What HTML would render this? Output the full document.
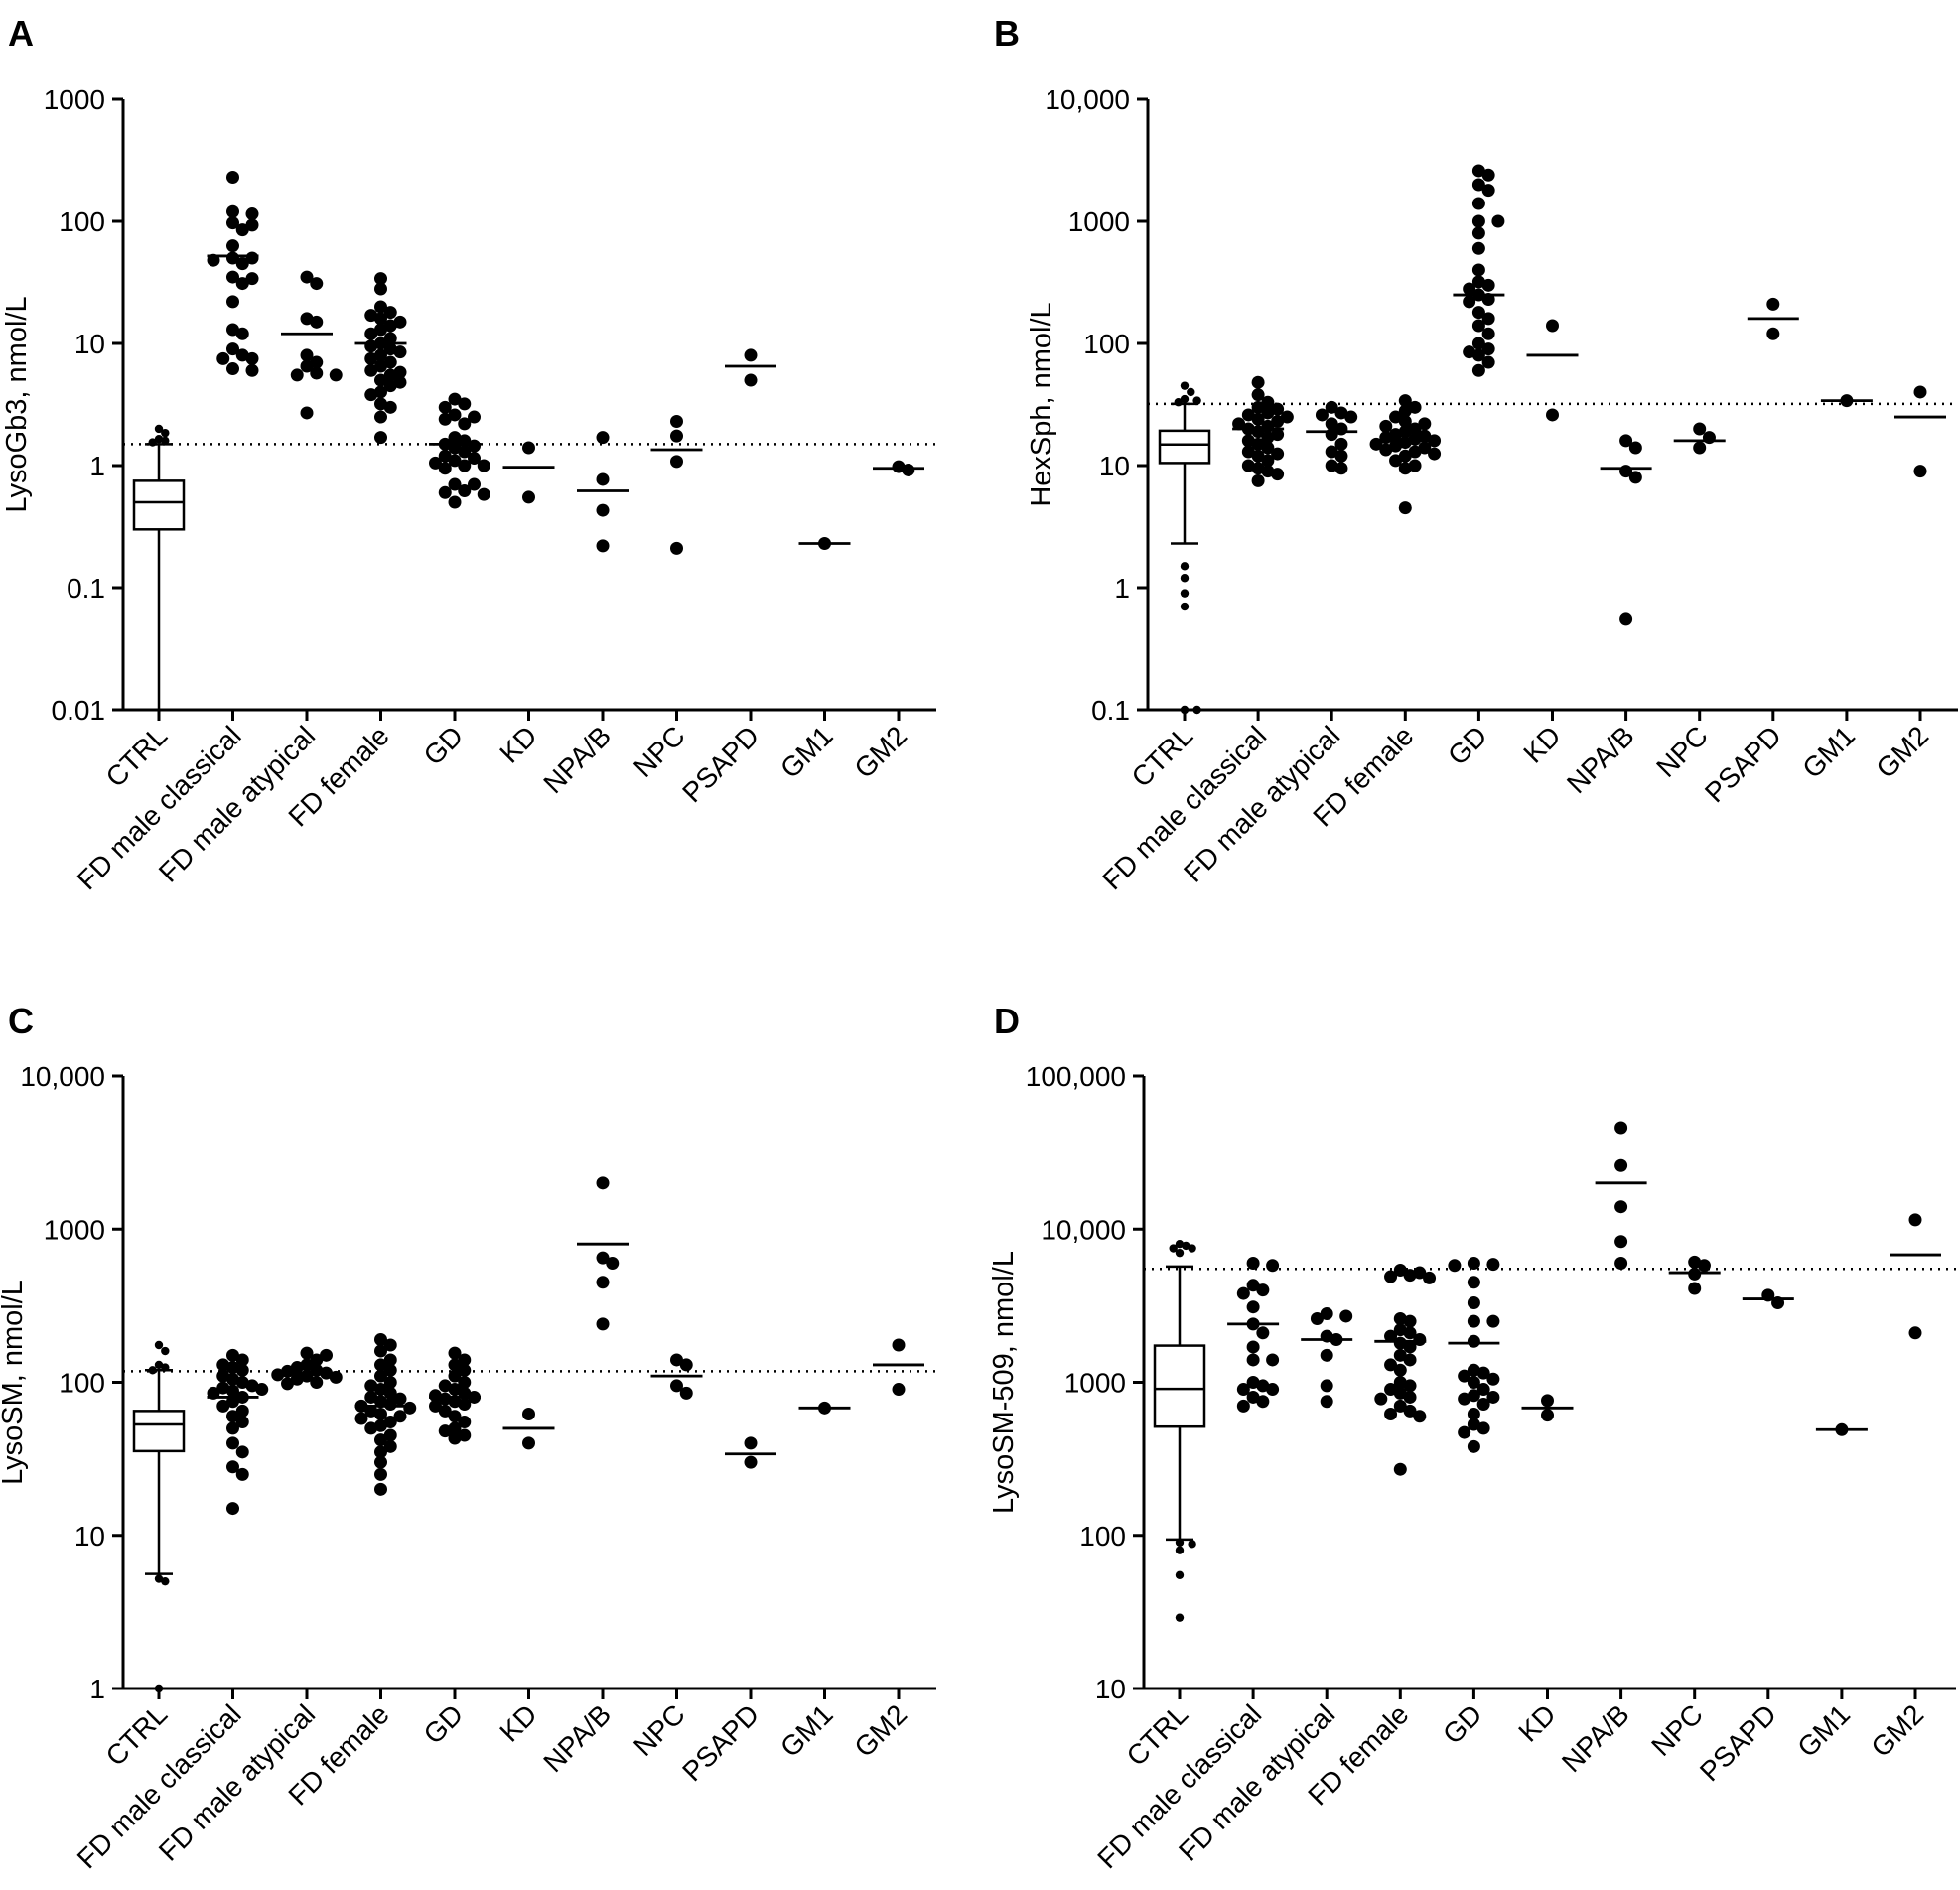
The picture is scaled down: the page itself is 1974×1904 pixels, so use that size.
<!DOCTYPE html>
<html><head><meta charset="utf-8"><style>
html,body{margin:0;padding:0;background:#fff;}
svg{display:block;font-family:"Liberation Sans",Arial,sans-serif;}
</style></head><body>
<svg id="fig" width="1974" height="1904" viewBox="0 0 1974 1904" xmlns="http://www.w3.org/2000/svg"></svg>
<script>
const categories = ["CTRL","FD male classical","FD male atypical","FD female","GD","KD","NPA/B","NPC","PSAPD","GM1","GM2"];

// Panel A: LysoGb3
const aTicks = ["1000","100","10","1","0.1","0.01"];
const aBox = [0.01, 0.3, 0.5, 0.75, 1.5];
const aOutliers = [2.0, 1.85, 1.65, 1.6, 1.55];
const aGroups = [
 [230,120,115,97,93,85,63,50,48,50,45,35,34,31,22,13,12,9,8,7.5,7.5,6,6.2],
 [35,31,16,15,8,7,6.5,5.5,5.5,5.7,2.7],
 [34,28,20,18,17,16,15,14,13,12,11,10,9.5,9,8.5,8,7.5,7,6.5,6,5.8,5.5,5,4.8,4.5,4,3.8,3.2,3,2.5,1.7],
 [3.5,3.2,3.0,2.6,2.5,2.4,2.2,1.7,1.6,1.5,1.45,1.4,1.3,1.2,1.15,1.1,1.05,1.0,1.0,0.95,0.7,0.7,0.62,0.6,0.58,0.5],
 [1.4,0.55],[1.7,0.77,0.43,0.22],[2.3,1.75,1.08,0.21],[8.0,5.0],[0.23],[0.92,0.98]];
const aMeans = [52,12,10,1.5,0.97,0.62,1.35,6.5,0.23,0.95];
const aCutoff = 1.5;

// Panel B: HexSph
const bTicks = ["10,000","1000","100","10","1","0.1"];
const bBox = [2.3, 10.5, 14.9, 19.3, 32];
const bOutliers = [45,40,35,34,33,1.5,1.2,0.9,0.7,0.1,0.1];
const bGroups = [
 [48,38,33,30,29,27,26,25,24,23,22,21,20,19,18,17,16,15,14,13,12.5,12,11,10,9.5,9,8.5,7.5],
 [30,27,26,25,22,20,18,15,13,12,10,9.5],
 [34,30,28,25,23,22,21,20,19,18,17.5,17,16.5,16,15.5,15,14.5,14,13.5,13,12.5,12,11,10,9.5,4.5],
 [2600,2400,2000,1800,1400,1000,1000,800,600,400,320,300,280,250,230,220,180,160,140,120,100,90,85,80,70,60],
 [140,26],[16,14,9,8,0.55],[20,17,14],[210,120],[34],[40,9]];
const bMeans = [20,19,16,250,80,9.5,16,160,34,25];
const bCutoff = 32;

// Panel C: LysoSM
const cTicks = ["10,000","1000","100","10","1"];
const cBox = [5.6, 35.5, 53, 65, 120];
const cOutliers = [175,160,130,125,120,5.0,5.2,1.0];
const cGroups = [
 [150,140,130,125,120,110,105,100,95,92,90,88,85,80,75,70,65,60,55,50,40,35,28,25,15],
 [155,150,140,130,125,120,118,115,112,110,108,105,100,98],
 [190,175,160,140,130,120,110,100,95,90,85,80,78,75,72,70,68,65,62,60,58,55,52,50,45,42,38,35,30,25,20],
 [155,140,130,120,110,100,95,90,85,82,80,78,75,72,70,65,60,55,50,48,45,43],
 [62,40],[2000,650,600,450,240],[140,130,95,85],[40,30],[68],[175,90]];
const cMeans = [80,115,70,80,50,800,110,34,68,130];
const cCutoff = 118;

// Panel D: LysoSM-509
const dTicks = ["100,000","10,000","1000","100","10"];
const dBox = [94, 513, 905, 1735, 5700];
const dOutliers = [8000,7500,7000,7500,7800,90,88,80,55,29];
const dGroups = [
 [6000,5800,4300,4000,3800,3100,2400,2100,1700,1400,1400,1000,950,900,900,800,750,700],
 [2800,2700,2600,2000,1900,1500,950,750],
 [5400,5200,5000,4900,4800,2600,2500,2200,2100,2000,1900,1800,1700,1500,1400,1300,1200,1000,950,900,850,800,780,700,650,620,600,270],
 [6000,5900,5800,4500,3300,2500,2500,1850,1200,1150,1100,1050,1000,900,820,800,780,720,620,530,500,470,380],
 [760,610],[46000,26000,14000,8300,6000],[6100,5800,5100,4100],[3700,3300],[490],[11500,2100]];
const dMeans = [2400,1900,1850,1800,680,20000,5200,3500,490,6800];
const dCutoff = 5500;

const NS = "http://www.w3.org/2000/svg";
const svg = document.getElementById("fig");
function mk(tag, attrs, parent){
  const e = document.createElementNS(NS, tag);
  for (const k in attrs) e.setAttribute(k, attrs[k]);
  (parent||svg).appendChild(e);
  return e;
}

function panel(p){
  const g = mk("g", {});
  
  
  const ty = p.ticks.map(t => parseFloat(t.replace(/,/g,"")));
  const lmax = Math.log10(ty[0]), lmin = Math.log10(ty[ty.length-1]);
  const y = v => p.top + (lmax - Math.log10(v)) / (lmax - lmin) * (p.bottom - p.top);
  const x = i => p.x0 + i * p.step;

  const letter = mk("text", {x:p.lx, y:p.ly, "font-size":36, "font-weight":"bold", fill:"#000"}, g);
  letter.textContent = p.letter;
  
  

  const ax = mk("path", {d:`M${p.ax},${p.top} V${p.bottom} H${p.axEnd}`, stroke:"#000", "stroke-width":3, fill:"none"}, g);
  
  

  ty.forEach((v,i)=>{
    const yy = y(v);
    const tk = mk("line", {x1:p.ax-11, x2:p.ax, y1:yy, y2:yy, stroke:"#000", "stroke-width":3}, g);
    
    
    const tl = mk("text", {x:p.ax-18, y:yy+10, "font-size":28, "text-anchor":"end", fill:"#000"}, g);
    tl.textContent = p.ticks[i];
    
    
  });

  const yl = mk("text", {x:0, y:0, "font-size":29, "text-anchor":"middle", fill:"#000",
    transform:`translate(${p.ylx},${(p.top+p.bottom)/2}) rotate(-90)`}, g);
  yl.textContent = p.ylabel;
  
  

  categories.forEach((c,i)=>{
    const xx = x(i);
    const tk = mk("line", {x1:xx, x2:xx, y1:p.bottom, y2:p.bottom+11, stroke:"#000", "stroke-width":3}, g);
    
    
    const tl = mk("text", {x:0, y:0, "font-size":28, "text-anchor":"end", fill:"#000",
      transform:`translate(${xx+10},${p.bottom+28}) rotate(-45)`}, g);
    tl.textContent = c;
    
    
  });

  const co = mk("line", {x1:p.ax, x2:p.axEnd, y1:y(p.cutoff), y2:y(p.cutoff), stroke:"#000", "stroke-width":2.5, "stroke-dasharray":"2 6"}, g);
  
  

  const bx = x(0), b = p.box;
  const wh = mk("path", {d:`M${bx},${y(b[0])} V${y(b[1])} M${bx},${y(b[3])} V${y(b[4])} M${bx-14},${y(b[0])} H${bx+14} M${bx-14},${y(b[4])} H${bx+14}`, stroke:"#000", "stroke-width":2.5, fill:"none"}, g);
  
  
  const rect = mk("rect", {x:bx-25, y:y(b[3]), width:50, height:y(b[1])-y(b[3]), fill:"#fff", stroke:"#000", "stroke-width":2.5}, g);
  
  
  const md = mk("line", {x1:bx-25, x2:bx+25, y1:y(b[2]), y2:y(b[2]), stroke:"#000", "stroke-width":2.5}, g);
  
  

  function swarm(vals, cx, r, maxK){
    const placed = [];
    const sorted = vals.slice().sort((a,b)=>b-a);
    sorted.forEach(v=>{
      const yy = y(v);
      let k = 0, px, best = cx, bestD = -1;
      while (k <= maxK){
        const off = (k===0?0:(k%2?1:-1)*Math.ceil(k/2)) * r * 1.5;
        px = cx + off;
        const d = placed.reduce((m,q)=>Math.min(m, Math.hypot(q[0]-px, q[1]-yy)), 1e9);
        if (d >= 1.55*r){ best = px; bestD = d; break; }
        if (d > bestD){ bestD = d; best = px; }
        k++;
      }
      placed.push([best, yy]);
    });
    return placed;
  }

  swarm(p.outliers, bx, 4.2, 6).forEach(q=>{
    const c = mk("circle", {cx:q[0], cy:q[1], r:4.2, fill:"#000"}, g);
    
    
  });

  p.groups.forEach((vals, gi)=>{
    const cx = x(gi+1);
    swarm(vals, cx, 6.5, 6).forEach(q=>{
      const c = mk("circle", {cx:q[0], cy:q[1], r:6.5, fill:"#000"}, g);
      
      
    });
    const m = mk("line", {x1:cx-26, x2:cx+26, y1:y(p.means[gi]), y2:y(p.means[gi]), stroke:"#000", "stroke-width":2.8}, g);
    
    
  });
}

panel({letter:"A", lx:8, ly:46, ax:124, axEnd:943, top:100, bottom:715, x0:160, step:74.5, ylx:26, ylabel:"LysoGb3, nmol/L",
  ticks:aTicks, box:aBox, outliers:aOutliers, groups:aGroups, means:aMeans, cutoff:aCutoff});
panel({letter:"B", lx:1001, ly:46, ax:1156, axEnd:1972, top:100, bottom:715, x0:1193, step:74.1, ylx:1058, ylabel:"HexSph, nmol/L",
  ticks:bTicks, box:bBox, outliers:bOutliers, groups:bGroups, means:bMeans, cutoff:bCutoff});
panel({letter:"C", lx:8, ly:1041, ax:124, axEnd:943, top:1084, bottom:1701, x0:160, step:74.5, ylx:22, ylabel:"LysoSM, nmol/L",
  ticks:cTicks, box:cBox, outliers:cOutliers, groups:cGroups, means:cMeans, cutoff:cCutoff});
panel({letter:"D", lx:1001, ly:1041, ax:1152, axEnd:1970, top:1084, bottom:1701, x0:1188, step:74.1, ylx:1020, ylabel:"LysoSM-509, nmol/L",
  ticks:dTicks, box:dBox, outliers:dOutliers, groups:dGroups, means:dMeans, cutoff:dCutoff});
</script>
</body></html>
